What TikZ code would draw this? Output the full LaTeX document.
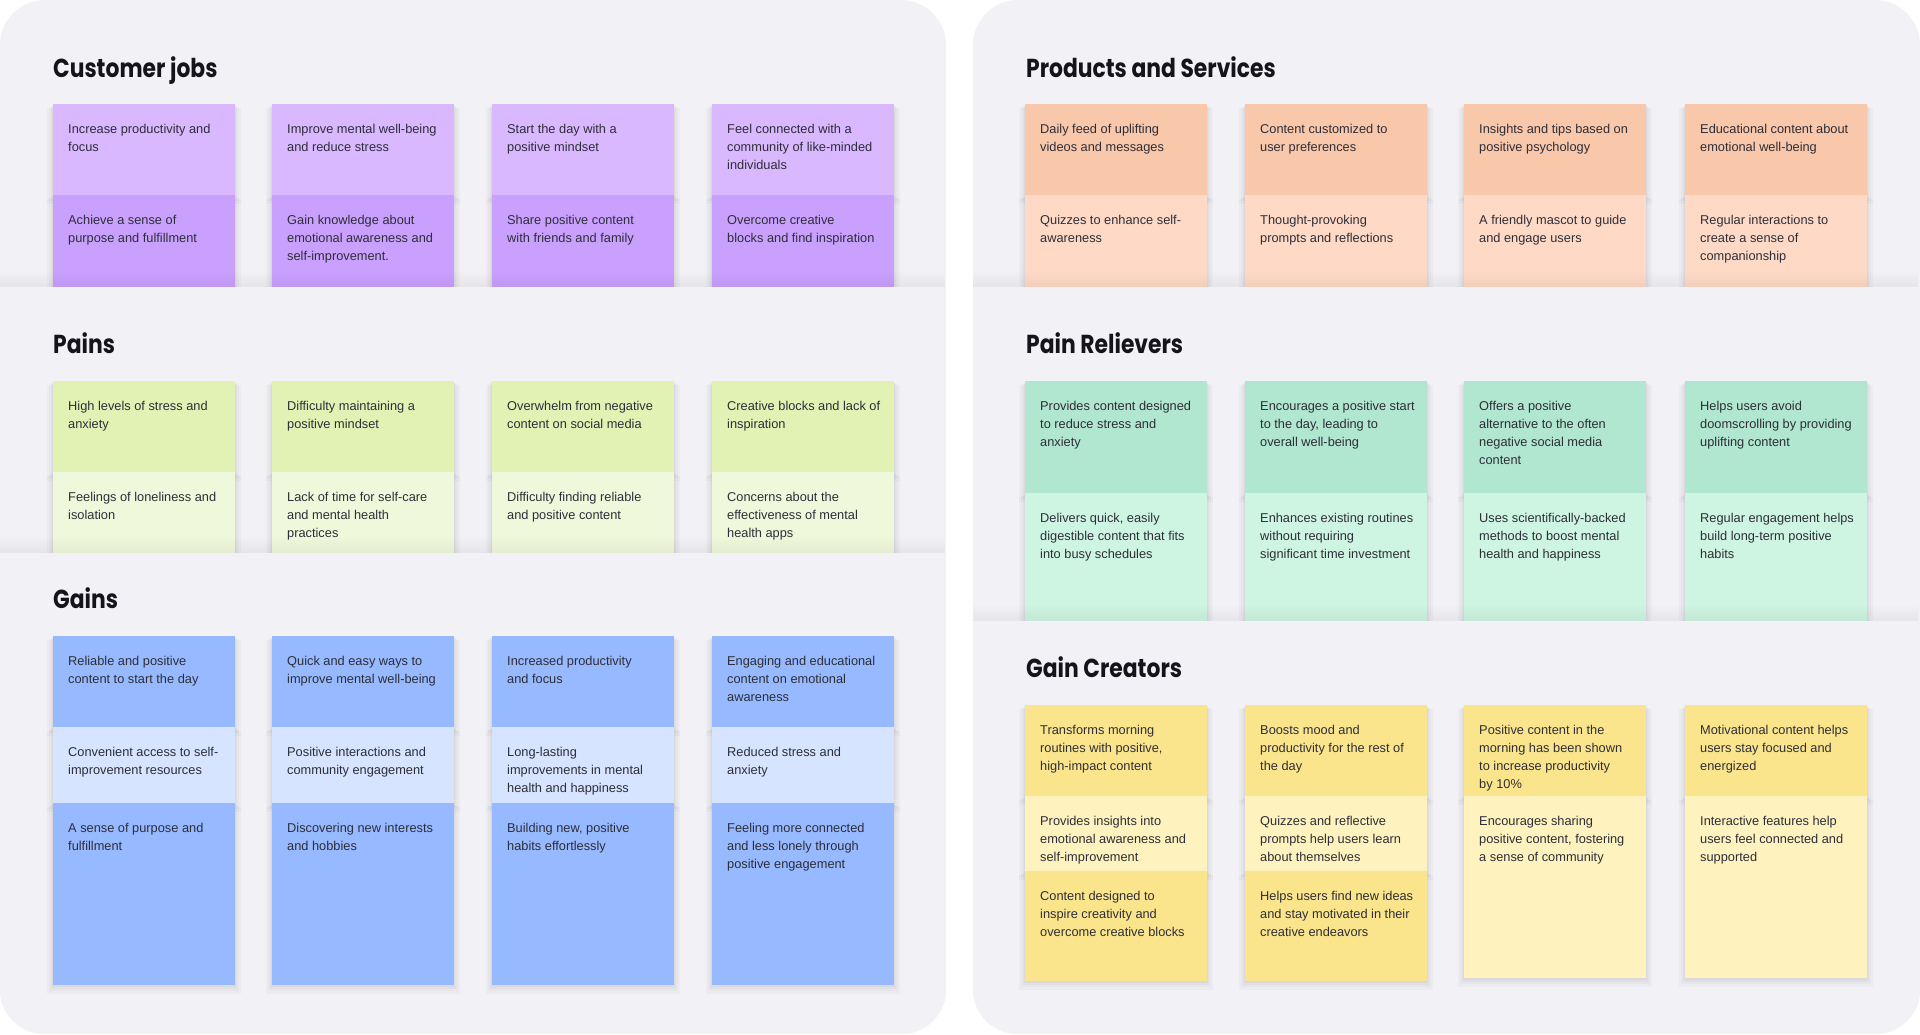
\documentclass[tikz,border=0pt]{standalone}
\usepackage{fontspec}
\setmainfont{Liberation Sans}
\newfontfamily\titlefont{Poppins}[FakeStretch=0.84]
\usetikzlibrary{fadings}
\definecolor{panel}{HTML}{F2F1F6}
\definecolor{txt}{HTML}{2E2E38}
\definecolor{ttlc}{HTML}{14141A}
\definecolor{purA}{HTML}{D9B8FF}
\definecolor{purB}{HTML}{CAA0FE}
\definecolor{grnA}{HTML}{E1F2B4}
\definecolor{grnB}{HTML}{F0F8DC}
\definecolor{bluA}{HTML}{97B9FF}
\definecolor{bluB}{HTML}{D6E4FF}
\definecolor{orA}{HTML}{F9C7AA}
\definecolor{orB}{HTML}{FEDAC6}
\definecolor{mnA}{HTML}{B1E6D0}
\definecolor{mnB}{HTML}{CEF5E1}
\definecolor{ylA}{HTML}{FBE58C}
\definecolor{ylB}{HTML}{FEF2BE}
\tikzfading[name=fadebot, top color=transparent!100, bottom color=transparent!0]
\tikzset{
  stk/.style={anchor=north west, inner sep=0pt, outer sep=0pt, minimum width=182pt},
  shd/.style={black, opacity=0.022},
  stktxt/.style={anchor=north west, inner sep=0pt, align=left, text=txt,
    font=\fontsize{12.8}{18}\selectfont},
  ttl/.style={anchor=base west, inner sep=0pt, text=ttlc,
    font=\titlefont\bfseries\fontsize{26}{30}\selectfont},
  bandshade/.style={black, opacity=0.05, path fading=fadebot},
}
\newcommand\sticky[6]{%
  \fill[shd] (#2-1,#3+1) rectangle (#2+183,#3+#4+2);
  \fill[shd] (#2-2,#3+2) rectangle (#2+184,#3+#4+4);
  \fill[shd] (#2-4,#3+3) rectangle (#2+186,#3+#4+6);
  \fill[shd] (#2-6,#3+4) rectangle (#2+188,#3+#4+9);
  \node[stk, fill=#5, minimum height=#4pt] (#1) at (#2,#3) {};
  \node[stktxt] (#1t) at ([shift={(15,19.5)}]#1.north west) {\rule{0pt}{10pt}#6};}
\begin{document}
\begin{tikzpicture}[x=1pt,y=-1pt]
\fill[white] (0,0) rectangle (1920,1034);
\useasboundingbox (0,0) rectangle (1920,1034);

% ================= LEFT PANEL =================
\begin{scope}
\clip[rounded corners=45pt] (0,0) rectangle (946,1034);
\fill[panel] (0,0) rectangle (946,1034);
\node[ttl] (tcj) at (53,77) {Customer jobs};
\sticky{cj1a}{53}{104}{91}{purA}{Increase productivity and\\focus}
\sticky{cj1b}{53}{195}{105}{purB}{Achieve a sense of\\purpose and fulfillment}
\sticky{cj2a}{272}{104}{91}{purA}{Improve mental well-being\\and reduce stress}
\sticky{cj2b}{272}{195}{105}{purB}{Gain knowledge about\\emotional awareness and\\self-improvement.}
\sticky{cj3a}{492}{104}{91}{purA}{Start the day with a\\positive mindset}
\sticky{cj3b}{492}{195}{105}{purB}{Share positive content\\with friends and family}
\sticky{cj4a}{712}{104}{91}{purA}{Feel connected with a\\community of like-minded\\individuals}
\sticky{cj4b}{712}{195}{105}{purB}{Overcome creative\\blocks and find inspiration}
\fill[bandshade] (0,270) rectangle (946,287);
\fill[panel] (0,287) rectangle (946,1034);

\node[ttl] (tpa) at (53,353) {Pains};
\sticky{pa1a}{53}{381}{91}{grnA}{High levels of stress and\\anxiety}
\sticky{pa1b}{53}{472}{95}{grnB}{Feelings of loneliness and\\isolation}
\sticky{pa2a}{272}{381}{91}{grnA}{Difficulty maintaining a\\positive mindset}
\sticky{pa2b}{272}{472}{95}{grnB}{Lack of time for self-care\\and mental health\\practices}
\sticky{pa3a}{492}{381}{91}{grnA}{Overwhelm from negative\\content on social media}
\sticky{pa3b}{492}{472}{95}{grnB}{Difficulty finding reliable\\and positive content}
\sticky{pa4a}{712}{381}{91}{grnA}{Creative blocks and lack of\\inspiration}
\sticky{pa4b}{712}{472}{95}{grnB}{Concerns about the\\effectiveness of mental\\health apps}
\fill[bandshade] (0,536) rectangle (946,553);
\fill[panel] (0,553) rectangle (946,1034);

\node[ttl] (tga) at (53,608) {Gains};
\sticky{ga1a}{53}{636}{91}{bluA}{Reliable and positive\\content to start the day}
\sticky{ga1b}{53}{727}{76}{bluB}{Convenient access to self-\\improvement resources}
\sticky{ga1c}{53}{803}{182}{bluA}{A sense of purpose and\\fulfillment}
\sticky{ga2a}{272}{636}{91}{bluA}{Quick and easy ways to\\improve mental well-being}
\sticky{ga2b}{272}{727}{76}{bluB}{Positive interactions and\\community engagement}
\sticky{ga2c}{272}{803}{182}{bluA}{Discovering new interests\\and hobbies}
\sticky{ga3a}{492}{636}{91}{bluA}{Increased productivity\\and focus}
\sticky{ga3b}{492}{727}{76}{bluB}{Long-lasting\\improvements in mental\\health and happiness}
\sticky{ga3c}{492}{803}{182}{bluA}{Building new, positive\\habits effortlessly}
\sticky{ga4a}{712}{636}{91}{bluA}{Engaging and educational\\content on emotional\\awareness}
\sticky{ga4b}{712}{727}{76}{bluB}{Reduced stress and\\anxiety}
\sticky{ga4c}{712}{803}{182}{bluA}{Feeling more connected\\and less lonely through\\positive engagement}
\end{scope}

% ================= RIGHT PANEL =================
\begin{scope}
\clip[rounded corners=45pt] (973,0) rectangle (1920,1034);
\fill[panel] (973,0) rectangle (1920,1034);
\node[ttl] (tps) at (1026,77) {Products and Services};
\sticky{ps1a}{1025}{104}{91}{orA}{Daily feed of uplifting\\videos and messages}
\sticky{ps1b}{1025}{195}{105}{orB}{Quizzes to enhance self-\\awareness}
\sticky{ps2a}{1245}{104}{91}{orA}{Content customized to\\user preferences}
\sticky{ps2b}{1245}{195}{105}{orB}{Thought-provoking\\prompts and reflections}
\sticky{ps3a}{1464}{104}{91}{orA}{Insights and tips based on\\positive psychology}
\sticky{ps3b}{1464}{195}{105}{orB}{A friendly mascot to guide\\and engage users}
\sticky{ps4a}{1685}{104}{91}{orA}{Educational content about\\emotional well-being}
\sticky{ps4b}{1685}{195}{105}{orB}{Regular interactions to\\create a sense of\\companionship}
\fill[bandshade] (973,270) rectangle (1920,287);
\fill[panel] (973,287) rectangle (1920,1034);

\node[ttl] (tpr) at (1026,353) {Pain Relievers};
\sticky{pr1a}{1025}{381}{112}{mnA}{Provides content designed\\to reduce stress and\\anxiety}
\sticky{pr1b}{1025}{493}{140}{mnB}{Delivers quick, easily\\digestible content that fits\\into busy schedules}
\sticky{pr2a}{1245}{381}{112}{mnA}{Encourages a positive start\\to the day, leading to\\overall well-being}
\sticky{pr2b}{1245}{493}{140}{mnB}{Enhances existing routines\\without requiring\\significant time investment}
\sticky{pr3a}{1464}{381}{112}{mnA}{Offers a positive\\alternative to the often\\negative social media\\content}
\sticky{pr3b}{1464}{493}{140}{mnB}{Uses scientifically-backed\\methods to boost mental\\health and happiness}
\sticky{pr4a}{1685}{381}{112}{mnA}{Helps users avoid\\doomscrolling by providing\\uplifting content}
\sticky{pr4b}{1685}{493}{140}{mnB}{Regular engagement helps\\build long-term positive\\habits}
\fill[bandshade] (973,604) rectangle (1920,621);
\fill[panel] (973,621) rectangle (1920,1034);

\node[ttl] (tgc) at (1026,677) {Gain Creators};
\sticky{gc1a}{1025}{705}{91}{ylA}{Transforms morning\\routines with positive,\\high-impact content}
\sticky{gc1b}{1025}{796}{75}{ylB}{Provides insights into\\emotional awareness and\\self-improvement}
\sticky{gc1c}{1025}{871}{110}{ylA}{Content designed to\\inspire creativity and\\overcome creative blocks}
\sticky{gc2a}{1245}{705}{91}{ylA}{Boosts mood and\\productivity for the rest of\\the day}
\sticky{gc2b}{1245}{796}{75}{ylB}{Quizzes and reflective\\prompts help users learn\\about themselves}
\sticky{gc2c}{1245}{871}{110}{ylA}{Helps users find new ideas\\and stay motivated in their\\creative endeavors}
\sticky{gc3a}{1464}{705}{91}{ylA}{Positive content in the\\morning has been shown\\to increase productivity\\by 10\%}
\sticky{gc3b}{1464}{796}{182}{ylB}{Encourages sharing\\positive content, fostering\\a sense of community}
\sticky{gc4a}{1685}{705}{91}{ylA}{Motivational content helps\\users stay focused and\\energized}
\sticky{gc4b}{1685}{796}{182}{ylB}{Interactive features help\\users feel connected and\\supported}
\end{scope}
\end{tikzpicture}
\end{document}
